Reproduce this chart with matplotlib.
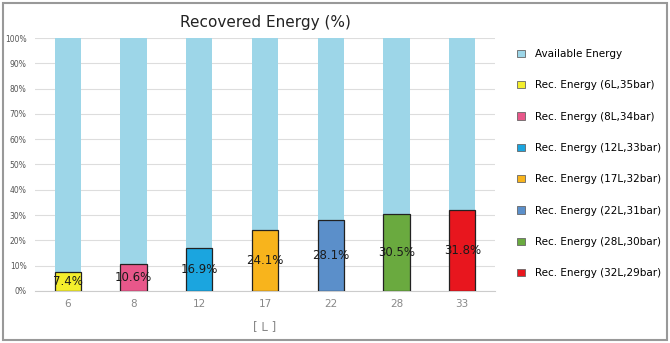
import numpy as np
import matplotlib.pyplot as plt
from matplotlib.patches import Rectangle, Patch

volumes = ['6', '8', '12', '17', '22', '28', '33']
recovered = [7.4, 10.6, 16.9, 24.1, 28.1, 30.5, 31.8]
labels = ['Rec. Energy (6L,35bar)', 'Rec. Energy (8L,34bar)', 'Rec. Energy (12L,33bar)',
          'Rec. Energy (17L,32bar)', 'Rec. Energy (22L,31bar)', 'Rec. Energy (28L,30bar)',
          'Rec. Energy (32L,29bar)']
colors = ['#f4ee2c', '#e8578a', '#1ba5df', '#f8b41c', '#5b8fca', '#6aaa3f', '#e8161e']
avail_color = '#9dd6e8'

fig = plt.figure(figsize=(6.7, 3.43), dpi=100)
ax = fig.add_axes([0.052, 0.152, 0.687, 0.737])

x = np.arange(len(volumes))
w = 0.4
ax.bar(x, [100 - r for r in recovered], w, bottom=recovered, color=avail_color, zorder=2)
for i, r in enumerate(recovered):
    ax.bar(x[i], r, w, color=colors[i], edgecolor='#222222', linewidth=0.9, zorder=3)
    ax.text(x[i], r / 2, f'{r}%', ha='center', va='center', fontsize=8.5,
            color='#1a1a1a', zorder=4)

ax.set_xlim(-0.5, 6.5)
ax.set_ylim(0, 100)
ax.set_yticks(range(0, 101, 10))
ax.set_yticklabels([f'{v}%' for v in range(0, 101, 10)])
ax.set_xticks(x)
ax.set_xticklabels(volumes)
ax.tick_params(axis='y', length=0, labelsize=5.5, labelcolor='#555555', pad=6)
ax.tick_params(axis='x', length=0, labelsize=7.5, labelcolor='#888888', pad=6)
ax.grid(axis='y', color='#dddddd', linewidth=0.8, zorder=0)
for s in ['top', 'right', 'left']:
    ax.spines[s].set_visible(False)
ax.spines['bottom'].set_color('#cccccc')
ax.set_xlabel('[ L ]', fontsize=8.5, color='#888888', labelpad=8)
ax.set_title('Recovered Energy (%)', fontsize=11, color='#222222', pad=8)

handles = [Patch(facecolor=avail_color, edgecolor='#666666', linewidth=0.6, label='Available Energy')]
for c, lab in zip(colors, labels):
    handles.append(Patch(facecolor=c, edgecolor='#666666', linewidth=0.6, label=lab))
fig.legend(handles=handles, loc='upper left', bbox_to_anchor=(0.758, 0.885),
           frameon=False, fontsize=7.5, labelspacing=2.05, handlelength=0.7,
           handleheight=0.7, handletextpad=1.0)

fig.patches.append(Rectangle((0.005, 0.008), 0.99, 0.984, transform=fig.transFigure,
                             fill=False, edgecolor='#999999', linewidth=1.5))

fig.savefig('out.png', dpi=100)
